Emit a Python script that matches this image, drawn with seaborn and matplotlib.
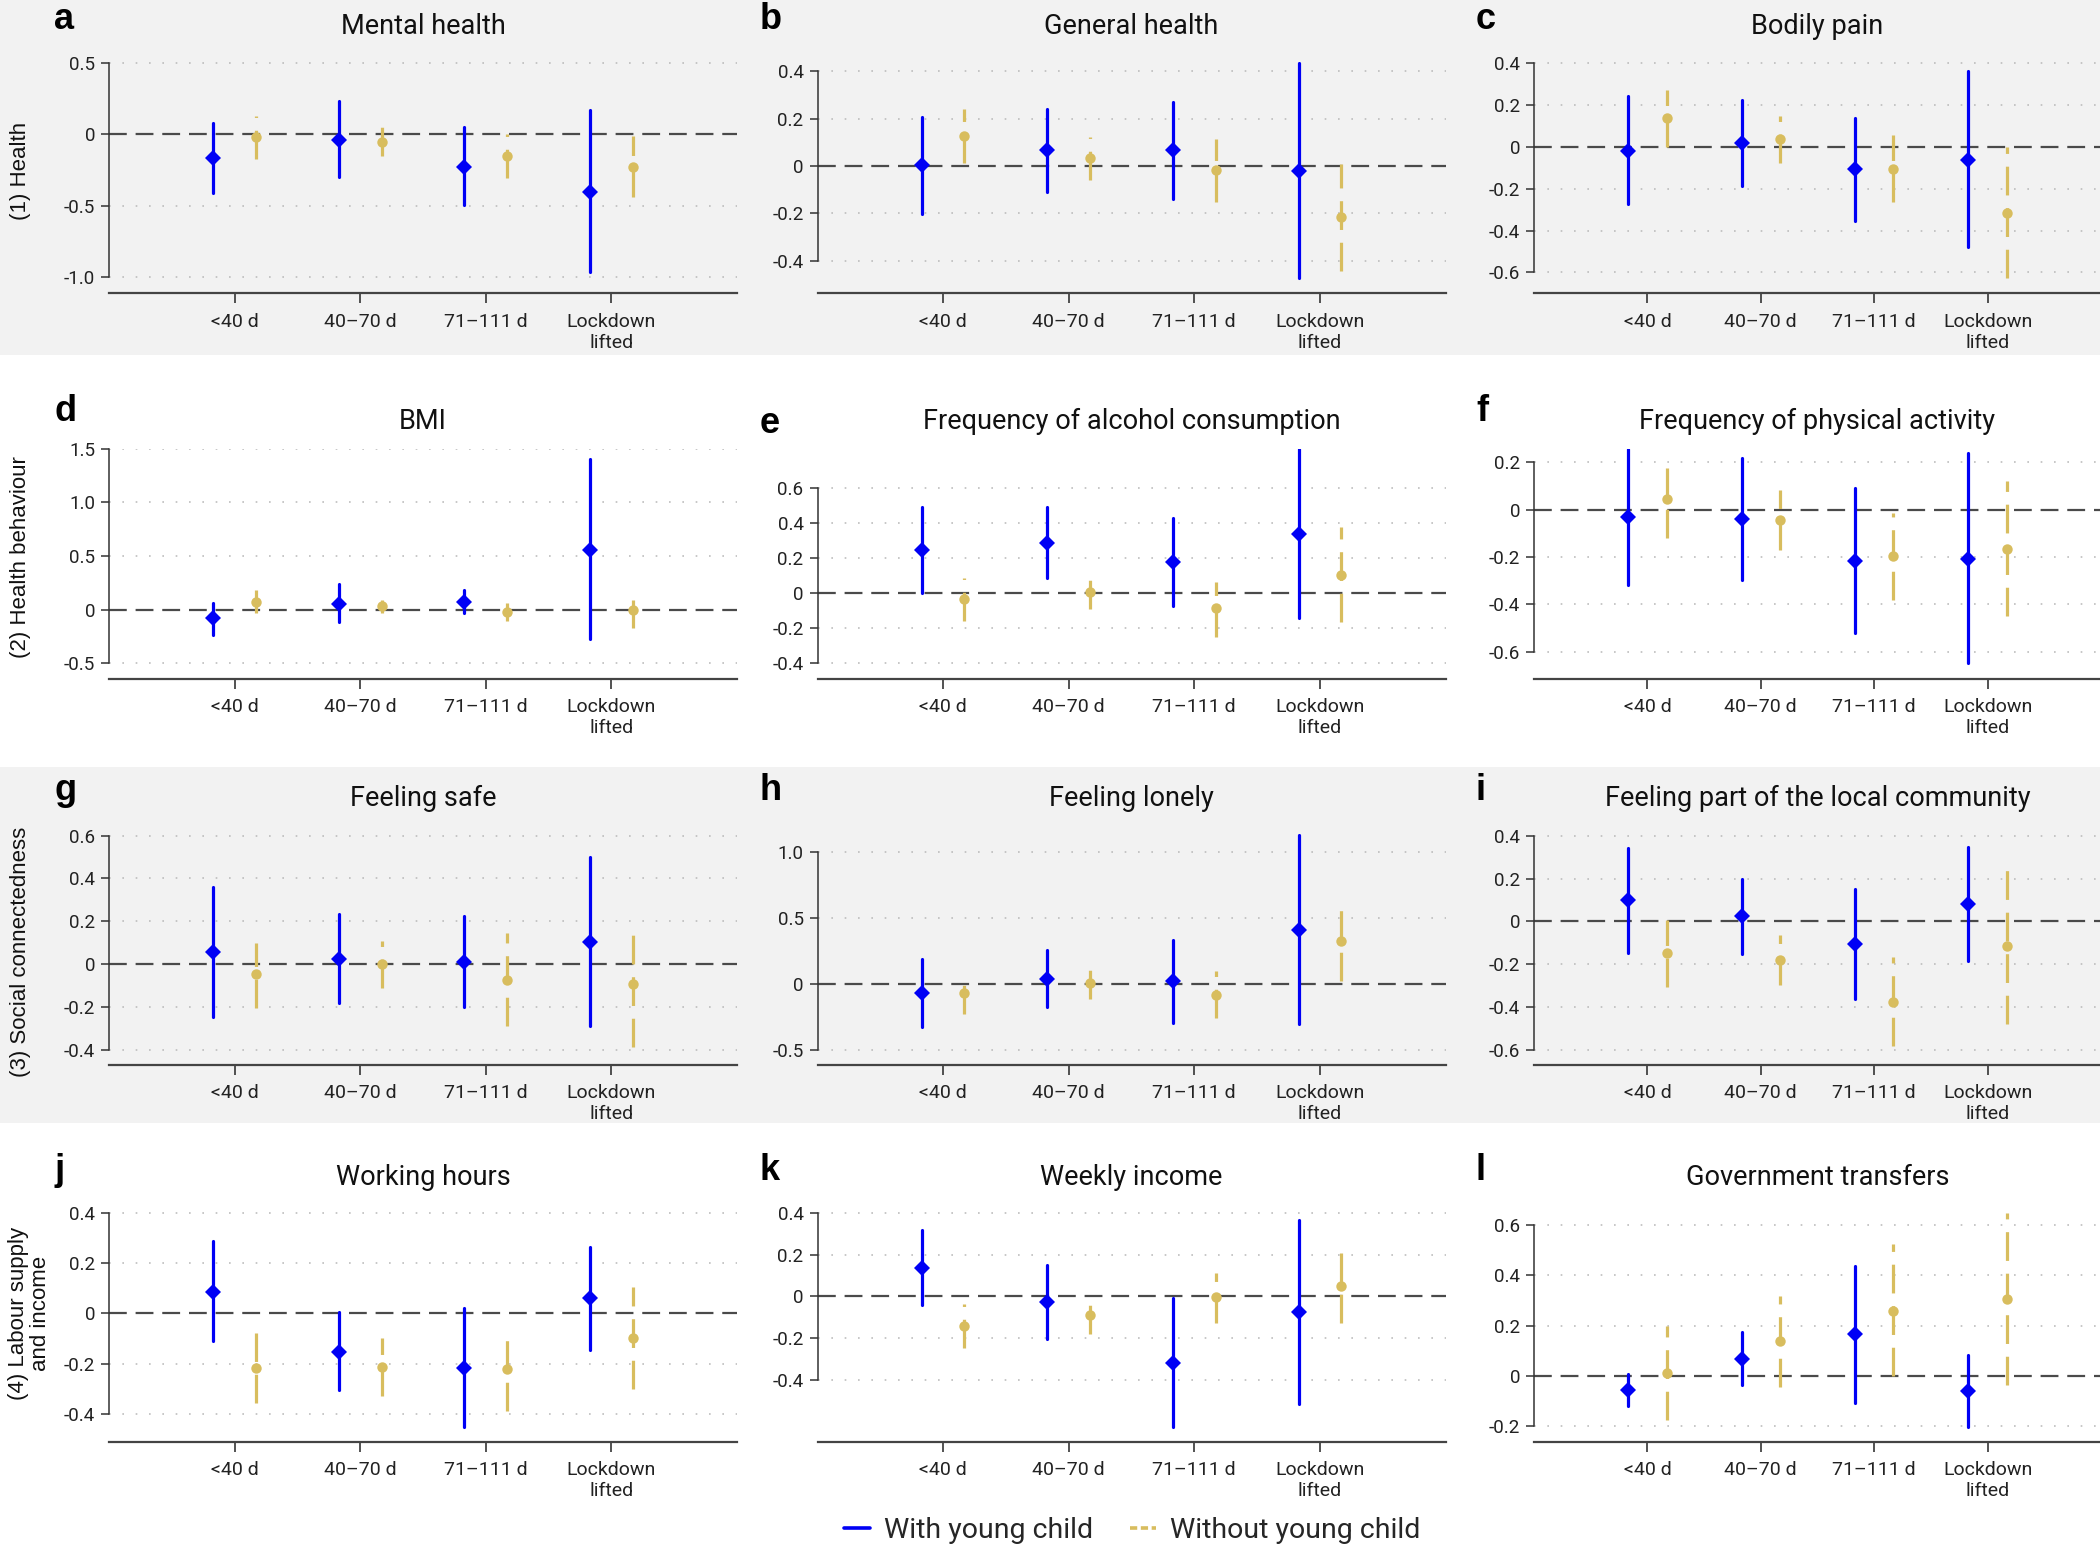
import numpy as np
import pandas as pd
import matplotlib
matplotlib.use("Agg")
import matplotlib.pyplot as plt
import seaborn as sns
from matplotlib.lines import Line2D
from matplotlib.patches import Rectangle

# ---------------- data ----------------
periods = ["<40 d", "40–70 d", "71–111 d", "Lockdown\nlifted"]
groups = ["With young child", "Without young child"]
panel_letters = list("abcdefghijkl")
panel_titles = ["Mental health", "General health", "Bodily pain",
                "BMI", "Frequency of alcohol consumption", "Frequency of physical activity",
                "Feeling safe", "Feeling lonely", "Feeling part of the local community",
                "Working hours", "Weekly income", "Government transfers"]
row_labels = ["(1) Health", "(2) Health behaviour", "(3) Social connectedness",
              "(4) Labour supply\nand income"]

# (estimate, lower CI, upper CI) for each period
mental_with = [(-0.168, -0.408, 0.077), (-0.040, -0.299, 0.229), (-0.226, -0.495, 0.051), (-0.404, -0.964, 0.168)]
mental_without = [(-0.019, -0.177, 0.128), (-0.054, -0.156, 0.047), (-0.152, -0.306, 0.000), (-0.229, -0.441, -0.016)]
general_with = [(0.003, -0.202, 0.208), (0.066, -0.110, 0.239), (0.066, -0.138, 0.270), (-0.020, -0.472, 0.434)]
general_without = [(0.127, 0.013, 0.239), (0.034, -0.060, 0.122), (-0.017, -0.150, 0.115), (-0.217, -0.443, 0.010)]
pain_with = [(-0.018, -0.274, 0.242), (0.018, -0.187, 0.222), (-0.107, -0.354, 0.137), (-0.061, -0.480, 0.360)]
pain_without = [(0.137, 0.000, 0.271), (0.037, -0.077, 0.147), (-0.104, -0.262, 0.057), (-0.314, -0.627, -0.003)]
bmi_with = [(-0.081, -0.234, 0.065), (0.056, -0.115, 0.237), (0.075, -0.034, 0.184), (0.561, -0.277, 1.402)]
bmi_without = [(0.075, -0.034, 0.187), (0.031, -0.031, 0.090), (-0.022, -0.109, 0.065), (0.000, -0.174, 0.093)]
alcohol_with = [(0.242, 0.000, 0.491), (0.286, 0.084, 0.488), (0.177, -0.072, 0.427), (0.337, -0.145, 0.823)]
alcohol_without = [(-0.036, -0.158, 0.086), (0.006, -0.090, 0.076), (-0.088, -0.250, 0.065), (0.103, -0.164, 0.375)]
activity_with = [(-0.031, -0.318, 0.256), (-0.039, -0.298, 0.219), (-0.215, -0.522, 0.093), (-0.208, -0.648, 0.240)]
activity_without = [(0.046, -0.121, 0.174), (-0.042, -0.170, 0.084), (-0.195, -0.380, -0.015), (-0.166, -0.449, 0.122)]
safe_with = [(0.058, -0.246, 0.361), (0.026, -0.182, 0.235), (0.012, -0.201, 0.226), (0.103, -0.290, 0.502)]
safe_without = [(-0.048, -0.202, 0.100), (0.000, -0.109, 0.107), (-0.073, -0.290, 0.145), (-0.093, -0.385, 0.145)]
lonely_with = [(-0.073, -0.329, 0.187), (0.038, -0.175, 0.253), (0.023, -0.294, 0.332), (0.405, -0.307, 1.127)]
lonely_without = [(-0.066, -0.228, -0.005), (0.008, -0.117, 0.104), (-0.084, -0.263, 0.099), (0.324, 0.023, 0.560)]
community_with = [(0.098, -0.148, 0.341), (0.023, -0.153, 0.198), (-0.106, -0.364, 0.153), (0.081, -0.184, 0.346)]
community_without = [(-0.148, -0.307, 0.008), (-0.181, -0.296, -0.064), (-0.376, -0.583, -0.168), (-0.114, -0.481, 0.243)]
hours_with = [(0.087, -0.109, 0.289), (-0.152, -0.307, 0.005), (-0.217, -0.453, 0.021), (0.061, -0.144, 0.265)]
hours_without = [(-0.219, -0.357, -0.079), (-0.213, -0.329, -0.099), (-0.223, -0.388, -0.107), (-0.096, -0.300, 0.107)]
income_with = [(0.138, -0.040, 0.317), (-0.027, -0.205, 0.150), (-0.320, -0.626, -0.006), (-0.074, -0.515, 0.365)]
income_without = [(-0.141, -0.245, -0.037), (-0.091, -0.179, -0.042), (-0.005, -0.128, 0.114), (0.050, -0.128, 0.210)]
transfers_with = [(-0.057, -0.120, 0.008), (0.068, -0.037, 0.174), (0.165, -0.106, 0.437), (-0.062, -0.203, 0.082)]
transfers_without = [(0.013, -0.175, 0.199), (0.138, -0.043, 0.318), (0.259, 0.000, 0.525), (0.306, -0.037, 0.647)]

panel_series = [(mental_with, mental_without), (general_with, general_without), (pain_with, pain_without),
                (bmi_with, bmi_without), (alcohol_with, alcohol_without), (activity_with, activity_without),
                (safe_with, safe_without), (lonely_with, lonely_without), (community_with, community_without),
                (hours_with, hours_without), (income_with, income_without), (transfers_with, transfers_without)]

# y-axis ticks per panel
panel_yticks = [[-1.0, -0.5, 0, 0.5], [-0.4, -0.2, 0, 0.2, 0.4], [-0.6, -0.4, -0.2, 0, 0.2, 0.4],
                [-0.5, 0, 0.5, 1.0, 1.5], [-0.4, -0.2, 0, 0.2, 0.4, 0.6], [-0.6, -0.4, -0.2, 0, 0.2],
                [-0.4, -0.2, 0, 0.2, 0.4, 0.6], [-0.5, 0, 0.5, 1.0], [-0.6, -0.4, -0.2, 0, 0.2, 0.4],
                [-0.4, -0.2, 0, 0.2, 0.4], [-0.4, -0.2, 0, 0.2, 0.4], [-0.2, 0, 0.2, 0.4, 0.6]]
panel_ylims = [(-1.112, 0.507), (-0.537, 0.44), (-0.70, 0.407),
               (-0.648, 1.503), (-0.491, 0.823), (-0.714, 0.257),
               (-0.47, 0.607), (-0.616, 1.137), (-0.671, 0.408),
               (-0.513, 0.405), (-0.698, 0.405), (-0.263, 0.652)]

# long-form table: each interval stored as (lower, estimate, upper) rows;
# seaborn's median gives the estimate, the 100% percentile interval gives the CI
records = []
group_offset = {groups[0]: -0.17, groups[1]: 0.17}
for k, (s_with, s_without) in enumerate(panel_series):
    for g, s in zip(groups, (s_with, s_without)):
        for i, (est, lo, hi) in enumerate(s):
            for v in (lo, est, hi):
                records.append({"panel": k, "group": g, "period": i,
                                "xpos": i + 1 + group_offset[g], "value": v})
df = pd.DataFrame(records)

# ---------------- style ----------------
sns.set_theme(style="white")
plt.rcParams["font.family"] = ["Roboto", "DejaVu Sans"]
plt.rcParams["axes.unicode_minus"] = False

BLUE = "#0000f5"
GOLD = "#d8bd5e"
W, H = 2100, 1545
fig = plt.figure(figsize=(W / 100, H / 100), dpi=100)
fig.patch.set_facecolor("white")

# grey bands behind rows 1 and 3
for top, bot in [(0, 355), (767, 1123)]:
    fig.add_artist(Rectangle((0, 1 - bot / H), 1, (bot - top) / H, transform=fig.transFigure,
                             facecolor="#f2f2f2", edgecolor="none", zorder=-10))

col_left = [109, 817.5, 1534]
col_width = [628, 628, 567]
row_top = [61.6, 448.6, 834, 1212]
row_bot = [293.3, 679, 1065, 1442]
title_gap = [19.9, 14.4, 20.0, 19.4]
letter_x = [54, 760, 1476]
letter_base = [29, 421, 800, 1180]

for k in range(12):
    r, c = divmod(k, 3)
    ax = fig.add_axes([col_left[c] / W, 1 - row_bot[r] / H, col_width[c] / W,
                       (row_bot[r] - row_top[r]) / H])
    ax.set_facecolor("none")
    ax.set_axisbelow(True)

    styles = [(groups[0], BLUE, "D", 8.5, "-"), (groups[1], GOLD, "o", 7.5, (0, (9, 4)))]
    for g, col, mk, ms, ls in styles:
        sub = df[(df["panel"] == k) & (df["group"] == g)]
        sns.pointplot(data=sub, x="xpos", y="value", estimator="median", errorbar=("pi", 100),
                      native_scale=True, color=col, marker=mk, linestyle="none",
                      markersize=ms, markeredgewidth=0, linewidth=2.3, zorder=3,
                      err_kws={"linestyle": ls, "linewidth": 2.3, "zorder": 2.5}, ax=ax)

    ax.axhline(0, color="#4a4a4a", lw=1.6, ls=(0, (8, 4)), zorder=1.5)

    ax.set_xlim(0, 5)
    ax.set_xticks([1, 2, 3, 4])
    ax.set_xticklabels(periods, fontsize=14, color="#222222", linespacing=1.2)
    ax.set_ylim(*panel_ylims[k])
    yt = panel_yticks[k]
    ax.set_yticks(yt)
    ax.set_yticklabels(["0" if v == 0 else f"{v:.1f}" for v in yt], fontsize=13.5, color="#222222")
    ax.set_xlabel("")
    ax.set_ylabel("")

    ax.yaxis.grid(True, linestyle=(0, (1, 7)), color="#bdbdbd", linewidth=1.2)
    ax.xaxis.grid(False)

    sns.despine(ax=ax)
    ax.spines["left"].set_bounds(yt[0], yt[-1])
    ax.spines["left"].set_color("#333333")
    ax.spines["left"].set_linewidth(1.1)
    ax.spines["bottom"].set_color("#444444")
    ax.spines["bottom"].set_linewidth(1.6)
    ax.tick_params(axis="x", length=7, width=1.3, pad=7, color="#444444", bottom=True)
    ax.tick_params(axis="y", length=6, width=1.1, pad=4, color="#333333", left=True)

    ax.annotate(panel_titles[k], xy=(0.5, 1), xycoords="axes fraction",
                xytext=(0, title_gap[r]), textcoords="offset points",
                ha="center", va="baseline", fontsize=19.5, color="#111111")

    lb = letter_base[r] + (12 if k == 4 else 0)
    fig.text(letter_x[c] / W, 1 - lb / H, panel_letters[k], fontsize=26, fontweight="bold",
             family=["Liberation Sans", "DejaVu Sans"], va="baseline", ha="left", color="black")

# row labels
row_label_pos = [(20.5, 170.7), (20.5, 556.7), (20.5, 952), (29.5, 1313)]
for lab, (x, y) in zip(row_labels, row_label_pos):
    fig.text(x / W, 1 - y / H, lab, rotation=90, ha="center", va="center", fontsize=16,
             family=["Liberation Sans", "DejaVu Sans"], color="#111111", linespacing=1.05,
             multialignment="center")

# legend
handles = [Line2D([0], [0], color=BLUE, lw=2.6, ls="-"),
           Line2D([0], [0], color=GOLD, lw=2.6, ls=(0, (2, 1)))]
fig.legend(handles, groups, loc="center", bbox_to_anchor=(1132 / W, 1 - 1530 / H), ncol=2,
           frameon=False, fontsize=20.5, handlelength=0.9, handletextpad=0.5, columnspacing=1.3,
           borderaxespad=0, borderpad=0)

fig.savefig("out.png", dpi=100, facecolor="white")
